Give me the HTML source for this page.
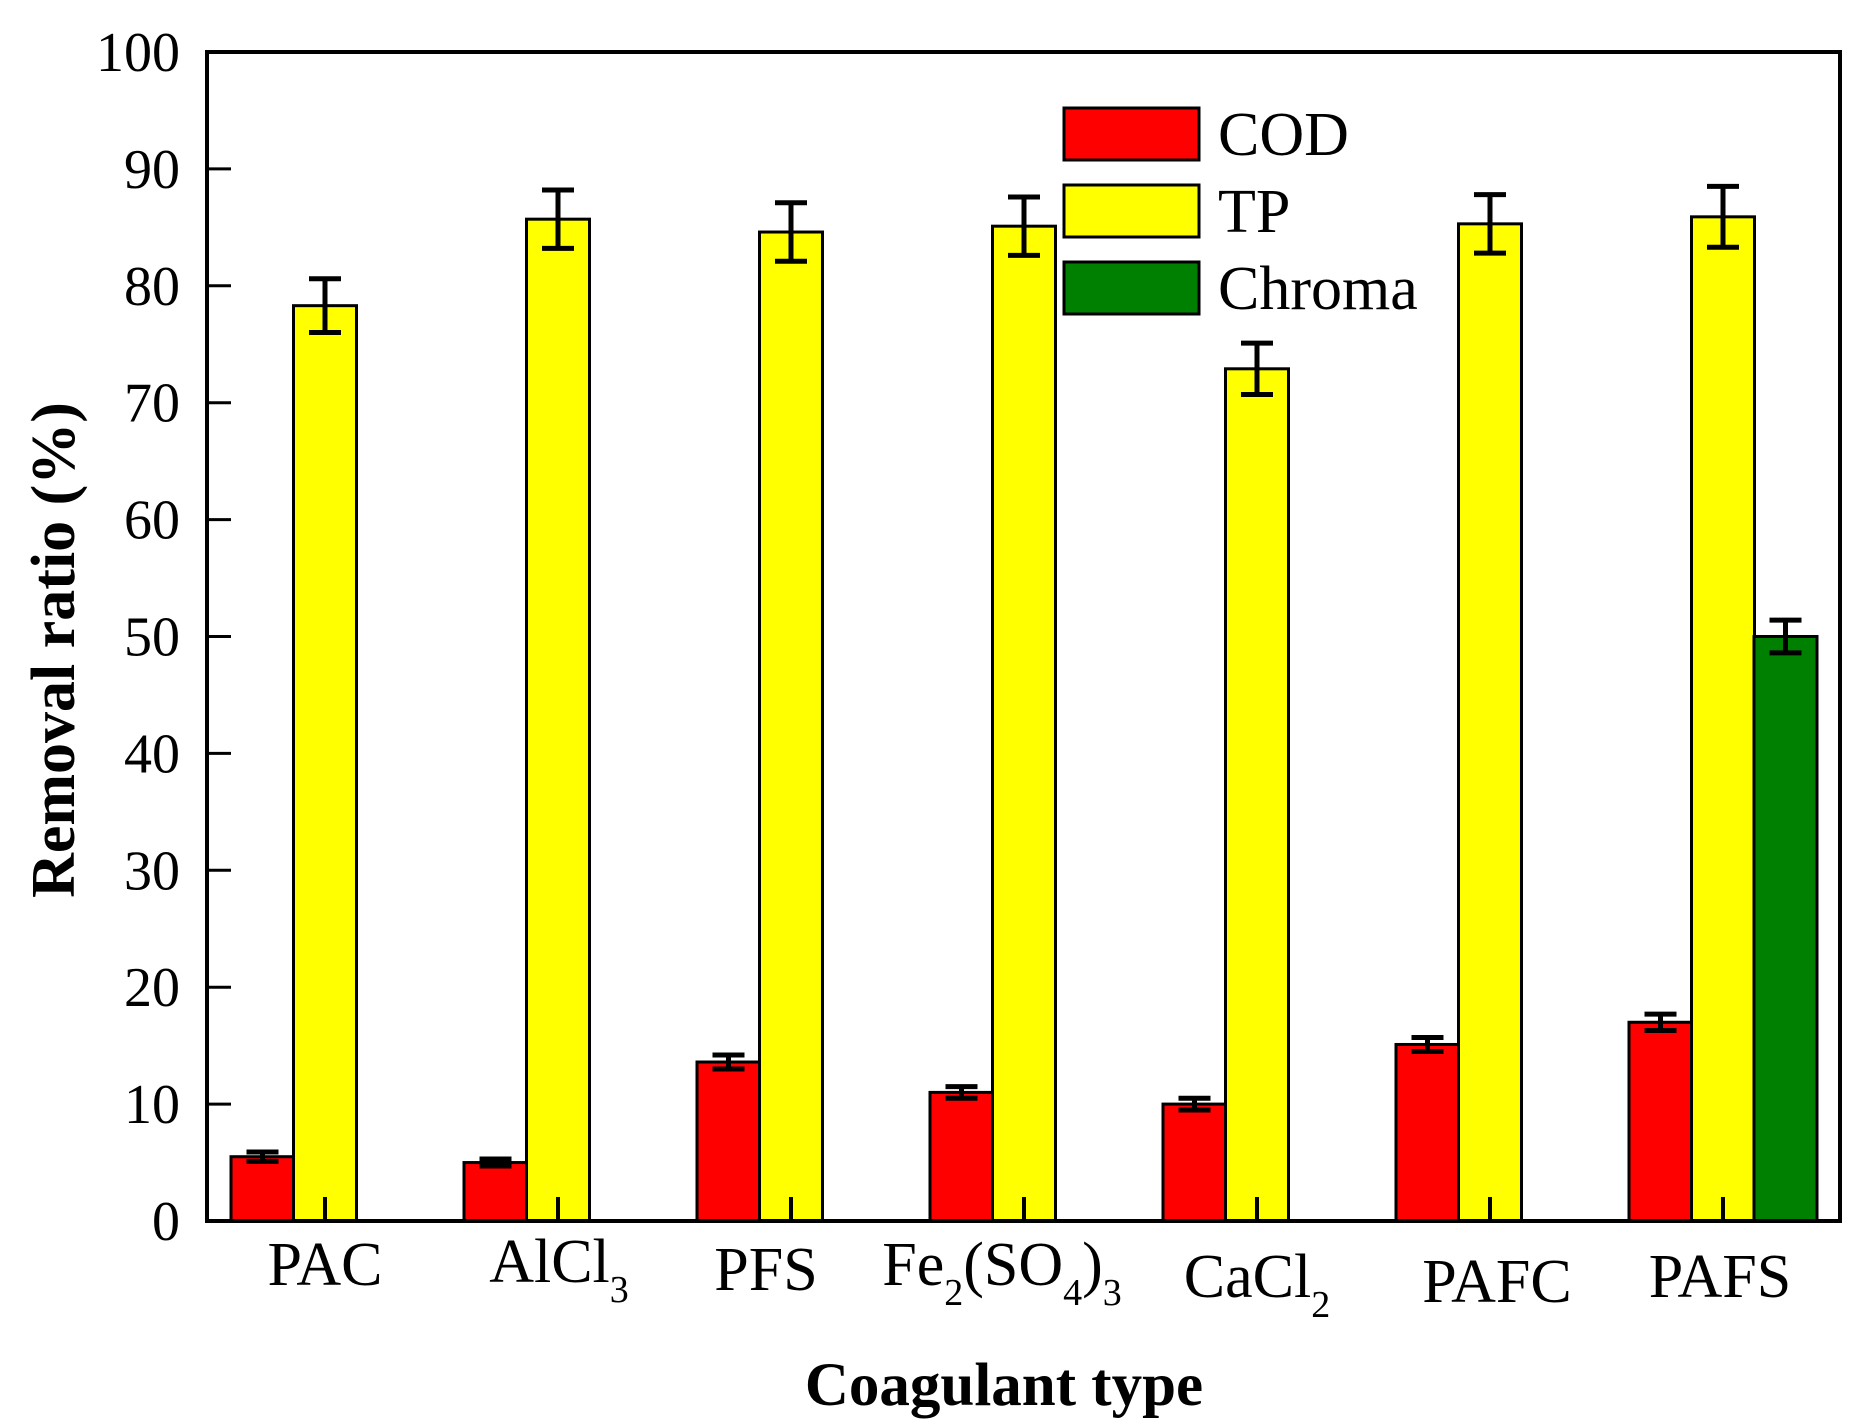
<!DOCTYPE html>
<html><head><style>html,body{margin:0;padding:0;background:#fff}svg{display:block}</style></head><body>
<svg width="1862" height="1423" viewBox="0 0 1862 1423" xmlns="http://www.w3.org/2000/svg" font-family="Liberation Serif, serif">
<g id="bars" stroke="#000" stroke-width="3"></g>
<rect x="207" y="52" width="1633" height="1169" fill="none" stroke="#000" stroke-width="4"/>
<g id="ticks" stroke="#000" stroke-width="3"></g>
<g id="ylab" font-size="56" text-anchor="end"></g>
<g font-size="62" text-anchor="middle">
<text x="325" y="1285">PAC</text>
<text x="559" y="1282">AlCl<tspan font-size="38" dy="20">3</tspan></text>
<text x="766" y="1290">PFS</text>
<text x="1002" y="1285">Fe<tspan font-size="38" dy="20">2</tspan><tspan dy="-20">(SO</tspan><tspan font-size="38" dy="20">4</tspan><tspan dy="-20">)</tspan><tspan font-size="38" dy="20">3</tspan></text>
<text x="1257" y="1297">CaCl<tspan font-size="38" dy="20">2</tspan></text>
<text x="1497" y="1302">PAFC</text>
<text x="1720" y="1297">PAFS</text>
</g>
<text x="1004" y="1405" font-size="61" font-weight="bold" text-anchor="middle">Coagulant type</text>
<text transform="translate(74,650) rotate(-90)" font-size="62" font-weight="bold" text-anchor="middle">Removal ratio (%)</text>
<g stroke="#000" stroke-width="3">
<rect x="1064" y="108" width="135" height="52" fill="#ff0000"/>
<rect x="1064" y="185" width="135" height="52" fill="#ffff00"/>
<rect x="1064" y="262" width="135" height="52" fill="#008000"/>
</g>
<g font-size="62">
<text x="1218" y="155">COD</text>
<text x="1218" y="232">TP</text>
<text x="1218" y="309">Chroma</text>
</g>
<script>
var ns="http://www.w3.org/2000/svg";
function Y(v){return 1221-v*11.69;}
function el(p,t,a){var e=document.createElementNS(ns,t);for(var k in a)e.setAttribute(k,a[k]);p.appendChild(e);return e;}
var cod=[5.5,5,13.6,11,10,15.1,17],ce=[0.4,0.3,0.6,0.5,0.5,0.6,0.7];
var tp=[78.3,85.7,84.6,85.1,72.9,85.3,85.9],te=[2.3,2.5,2.5,2.5,2.2,2.5,2.6];
var b=document.getElementById('bars');
function bar(x,v,e,c){el(b,'rect',{x:x,y:Y(v),width:63,height:Y(0)-Y(v),fill:c});var cx=x+31.5;
el(b,'line',{x1:cx,x2:cx,y1:Y(v+e),y2:Y(v-e),'stroke-width':5});
el(b,'line',{x1:cx-16,x2:cx+16,y1:Y(v+e),y2:Y(v+e),'stroke-width':5});
el(b,'line',{x1:cx-16,x2:cx+16,y1:Y(v-e),y2:Y(v-e),'stroke-width':5});}
for(var i=0;i<7;i++){var c=325+233*i;bar(c-94,cod[i],ce[i],'#ff0000');bar(c-31.5,tp[i],te[i],'#ffff00');}
bar(325+233*6+31,50,1.4,'#008000');
var t=document.getElementById('ticks'),yl=document.getElementById('ylab');
for(var v=0;v<=100;v+=10){el(t,'line',{x1:207,x2:231,y1:Y(v),y2:Y(v)});var tx=el(yl,'text',{x:180,y:Y(v)+19});tx.textContent=v;}
for(var i=0;i<7;i++){var c=325+233*i;el(t,'line',{x1:c,x2:c,y1:1221,y2:1197,'stroke-width':4});}
</script>
</svg>
</body></html>
